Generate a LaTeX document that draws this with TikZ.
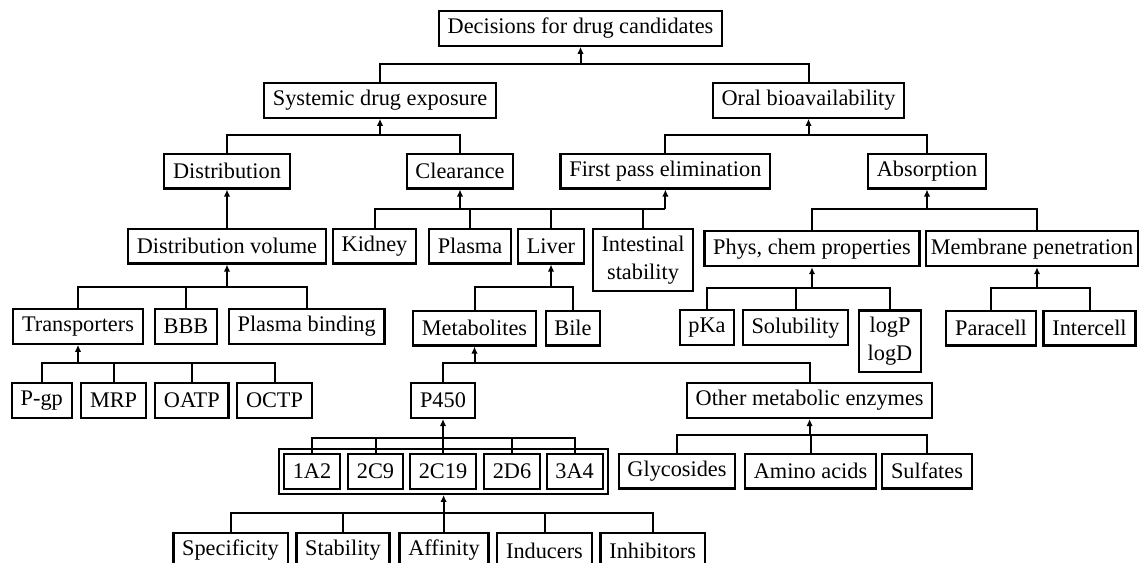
\documentclass[tikz,border=0pt]{standalone}
\usepackage{fontspec}
\setmainfont{Liberation Serif}
\usetikzlibrary{arrows.meta,fit}

\begin{document}
\begin{tikzpicture}[x=0.5pt,y=-0.5pt,>={Latex[length=3.5pt,width=3.2pt]},
  box/.style={draw,line width=1.1pt,minimum height=17.4pt,inner xsep=4.4pt,inner ysep=2pt,
    font=\fontsize{11.15pt}{14pt}\selectfont},
  twoline/.style={box,align=center,minimum height=30.9pt,anchor=north},
  conn/.style={line width=1pt}]
\useasboundingbox (0,0) rectangle (1140,562);
% ---------- rows 1-3 ----------
\node[box] (top) at (580.5,28.3) {Decisions for drug candidates};
\node[box] (sysexp) at (380,100.3) {Systemic drug exposure};
\node[box] (oral) at (808.5,100.3) {Oral bioavailability};
\node[box] (distr) at (227,171) {Distribution};
\node[box] (clear) at (460,171) {Clearance};
\node[box] (fpe) at (665.4,171) {First pass elimination};
\node[box] (absorp) at (927,171) {Absorption};
% ---------- row 4 ----------
\node[box] (dvol) at (227,246) {Distribution volume};
\node[box] (kidney) at (374.5,246) {Kidney};
\node[box] (plasma) at (470,246) {Plasma};
\node[box] (liver) at (551,246) {Liver};
\node[twoline] (intest) at (643,227.7) {Intestinal\\stability};
\node[box] (phys) at (812,248.7) {Phys, chem properties};
\node[box,inner xsep=2.5pt] (membr) at (1032,248.7) {Membrane penetration};
% ---------- row 5 ----------
\node[box] (transp) at (78,326.3) {Transporters};
\node[box] (bbb) at (186,326.3) {BBB};
\node[box] (pbind) at (306.7,326.3) {Plasma binding};
\node[box] (metab) at (474.5,328) {Metabolites};
\node[box] (bile) at (573,328) {Bile};
\node[box] (pka) at (707,327.7) {pKa};
\node[box] (solub) at (795.5,327.7) {Solubility};
\node[twoline] (logp) at (890,309.3) {logP\\logD};
\node[box] (para) at (991,328) {Paracell};
\node[box] (inter) at (1089.5,328) {Intercell};
% ---------- row 6 ----------
\node[box] (pgp) at (41.8,400.5) {P-gp};
\node[box] (mrp) at (113.6,400.5) {MRP};
\node[box] (oatp) at (191.8,400.5) {OATP};
\node[box] (octp) at (274.5,400.5) {OCTP};
\node[box] (pfs) at (443,400.5) {P450};
\node[box] (other) at (809.6,400.5) {Other metabolic enzymes};
% ---------- row 7 (isoforms in a double frame) ----------
\node[box] (c1a2) at (312,471.3) {1A2};
\node[box] (c2c9) at (375.5,471.3) {2C9};
\node[box] (c2c19) at (443,471.3) {2C19};
\node[box] (c2d6) at (512,471.3) {2D6};
\node[box] (c3a4) at (574.6,471.3) {3A4};
\node[draw,line width=1.1pt,inner sep=2pt,fit=(c1a2)(c3a4)] (cyp) {};
\node[box] (glyc) at (677,471) {Glycosides};
\node[box] (amino) at (810.5,471) {Amino acids};
\node[box] (sulf) at (927,471) {Sulfates};
% ---------- row 8 ----------
\node[box,anchor=north] (spec) at (230.5,532) {Specificity};
\node[box,anchor=north] (stab) at (343,532) {Stability};
\node[box,anchor=north] (affin) at (444,532) {Affinity};
\node[box,anchor=north] (induc) at (544.5,532) {Inducers};
\node[box,anchor=north] (inhib) at (652.7,532) {Inhibitors};
% ---------- junctions ----------
\coordinate (jtop) at (580.5,64.3);
\coordinate (jsys) at (380,135);
\coordinate (joral) at (808.5,135);
\coordinate (jclr) at (665.4,208.5);
\coordinate (jabs) at (927,209);
\coordinate (jdv) at (227,287);
\coordinate (jliver) at (551,287);
\coordinate (jphys) at (812,287.7);
\coordinate (jmem) at (1037,287.7);
\coordinate (jtr) at (78,363.3);
\coordinate (jmet) at (474.5,363.3);
\coordinate (jp450) at (443,438);
\coordinate (jother) at (809.6,435);
\coordinate (jcyp) at (443.6,512.7);
% ---------- connectors ----------
\draw[conn] (sysexp) |- (jtop); \draw[conn] (oral) |- (jtop);
\draw[conn,->] (jtop) -- (top);
\draw[conn] (distr) |- (jsys); \draw[conn] (clear.north) |- (jsys);
\draw[conn,->] (jsys) -- (sysexp);
\draw[conn] (fpe) |- (joral); \draw[conn] (absorp) |- (joral);
\draw[conn,->] (joral) -- (oral);
\draw[conn,->] (dvol) -- (distr);
\foreach \n in {kidney,plasma,liver,intest} \draw[conn] (\n) |- (jclr);
\draw[conn,->] (clear |- jclr) -- (clear);
\draw[conn,->] (jclr) -- (fpe);
\draw[conn] (phys) |- (jabs); \draw[conn] (jmem |- membr.north) |- (jabs);
\draw[conn,->] (jabs) -- (absorp);
\foreach \n in {transp,bbb,pbind} \draw[conn] (\n) |- (jdv);
\draw[conn,->] (jdv) -- (dvol);
\draw[conn] (metab) |- (jliver); \draw[conn] (bile) |- (jliver);
\draw[conn,->] (jliver) -- (liver);
\foreach \n in {pka,solub,logp} \draw[conn] (\n) |- (jphys);
\draw[conn,->] (jphys) -- (phys);
\draw[conn] (para) |- (jmem); \draw[conn] (inter) |- (jmem);
\draw[conn,->] (jmem) -- (jmem |- membr.south);
\foreach \n in {pgp,mrp,oatp,octp} \draw[conn] (\n) |- (jtr);
\draw[conn,->] (jtr) -- (transp);
\draw[conn] (pfs) |- (jmet); \draw[conn] (other) |- (jmet);
\draw[conn,->] (jmet) -- (metab);
\foreach \n in {c1a2,c2c9,c2c19,c2d6,c3a4} \draw[conn] (\n.north) |- (jp450);
\draw[conn,->] (jp450) -- (pfs);
\foreach \n in {glyc,amino,sulf} \draw[conn] (\n) |- (jother);
\draw[conn,->] (jother) -- (other);
\foreach \n in {spec,stab,affin,induc,inhib} \draw[conn] (\n) |- (jcyp);
\draw[conn,->] (jcyp) -- (jcyp |- cyp.south);
\end{tikzpicture}
\end{document}
